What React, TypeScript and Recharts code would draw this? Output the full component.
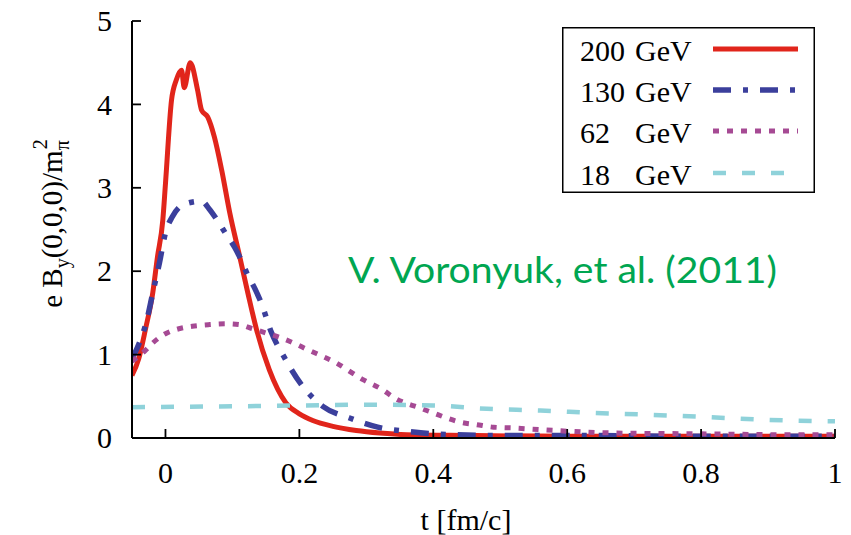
import { Legend, Line, LineChart, XAxis, YAxis } from 'recharts'

const SERIF = '"Liberation Serif", "Times New Roman", serif'
const TICK_LEN = 9

const xTicks = [0, 0.2, 0.4, 0.6, 0.8, 1]
const yTicks = [0, 1, 2, 3, 4, 5]

// 200 GeV
const t200 = [-0.05, -0.04, -0.03, -0.019, -0.012, -0.004, 0.0, 0.009, 0.016, 0.024, 0.028, 0.037, 0.048, 0.054, 0.063, 0.073, 0.084, 0.096, 0.111, 0.123, 0.136, 0.155, 0.18, 0.2, 0.22, 0.25, 0.285, 0.32, 0.36, 0.45, 0.6, 0.8, 1.0]
const v200 = [0.75, 0.95, 1.3, 1.74, 2.17, 2.61, 3.05, 4.05, 4.29, 4.41, 4.2, 4.5, 4.17, 3.93, 3.85, 3.61, 3.21, 2.7, 2.17, 1.74, 1.3, 0.82, 0.42, 0.29, 0.21, 0.14, 0.09, 0.06, 0.04, 0.03, 0.02, 0.02, 0.02]

// 130 GeV
const t130 = [-0.05, -0.04, -0.028, -0.019, -0.009, 0.0, 0.01, 0.021, 0.035, 0.054, 0.065, 0.079, 0.09, 0.103, 0.115, 0.123, 0.133, 0.143, 0.158, 0.178, 0.203, 0.235, 0.275, 0.317, 0.36, 0.4, 0.5, 0.6, 0.8, 1.0]
const v130 = [0.95, 1.12, 1.41, 1.74, 2.1, 2.46, 2.65, 2.77, 2.82, 2.84, 2.75, 2.59, 2.45, 2.29, 2.1, 1.95, 1.8, 1.62, 1.27, 0.96, 0.64, 0.38, 0.24, 0.13, 0.08, 0.05, 0.03, 0.03, 0.02, 0.02]

// 62 GeV
const t62 = [-0.05, -0.03, -0.019, 0.0, 0.02, 0.04, 0.066, 0.09, 0.11, 0.13, 0.15, 0.173, 0.215, 0.255, 0.295, 0.324, 0.342, 0.38, 0.4, 0.42, 0.44, 0.465, 0.49, 0.52, 0.56, 0.67, 0.8, 0.92, 1.0]
const v62 = [0.92, 1.05, 1.14, 1.25, 1.31, 1.34, 1.36, 1.37, 1.36, 1.31, 1.26, 1.2, 1.05, 0.9, 0.7, 0.58, 0.48, 0.36, 0.3, 0.24, 0.19, 0.16, 0.13, 0.12, 0.1, 0.06, 0.05, 0.04, 0.04]

// 18 GeV
const t18 = [-0.05, 0.1, 0.2, 0.3, 0.4, 0.48, 0.56, 0.64, 0.72, 0.81, 0.89, 1.0]
const v18 = [0.37, 0.38, 0.39, 0.4, 0.39, 0.35, 0.33, 0.3, 0.28, 0.25, 0.22, 0.2]

const energies = ['200', '130', '62', '18']
const times = [t200, t130, t62, t18]
const values = [v200, v130, v62, v18]
const colors = ['#e1251b', '#3b3f9c', '#a64a94', '#8fd2da']
const widths = [5, 5.5, 5, 4.5]
const dashes = [undefined, '18 12 5 12', '6 8', '13 16']

const series = energies.map((e, i) => ({
  name: e,
  data: times[i].map((t, j) => ({ t, v: values[i][j] })),
  color: colors[i],
  width: widths[i],
  dash: dashes[i],
}))

function BottomTick({ x, y, payload }: any) {
  return (
    <g>
      <line x1={x} x2={x} y1={y} y2={y - TICK_LEN} stroke="#000" strokeWidth={1.8} />
      <text x={x} y={y + 45} textAnchor="middle" fontFamily={SERIF} fontSize={30} fill="#000">
        {payload.value}
      </text>
    </g>
  )
}

function TopTick({ x, y }: any) {
  return <line x1={x} x2={x} y1={y} y2={y + TICK_LEN} stroke="#000" strokeWidth={1.8} />
}

function LeftTick({ x, y, payload }: any) {
  return (
    <g>
      <line x1={x} x2={x + TICK_LEN} y1={y} y2={y} stroke="#000" strokeWidth={1.8} />
      <text x={x - 20} y={y} dy="0.34em" textAnchor="end" fontFamily={SERIF} fontSize={30} fill="#000">
        {payload.value}
      </text>
    </g>
  )
}

function RightTick({ x, y }: any) {
  return <line x1={x} x2={x - TICK_LEN} y1={y} y2={y} stroke="#000" strokeWidth={1.8} />
}

function YLabel({ viewBox }: any) {
  const cx = 62
  const cy = viewBox ? viewBox.y + viewBox.height / 2 - 6 : 225
  return (
    <text
      x={cx}
      y={cy}
      transform={`rotate(-90, ${cx}, ${cy})`}
      textAnchor="middle"
      fontFamily={SERIF}
      fontSize={29}
      fill="#000"
    >
      e B<tspan dy={7} fontSize={20}>y</tspan>
      <tspan dy={-7}>(0,0,0)/m</tspan>
      <tspan dy={7} fontSize={20}>π</tspan>
      <tspan dx={-9} dy={-22} fontSize={20}>2</tspan>
    </text>
  )
}

function XLabel() {
  return (
    <text x={466} y={530} textAnchor="middle" fontFamily={SERIF} fontSize={30} fill="#000">
      t [fm/c]
    </text>
  )
}

function LegendBox() {
  const rows = [22, 63, 104, 146]
  return (
    <svg width={253} height={166} style={{ display: 'block' }}>
      <rect x={0.75} y={0.75} width={251.5} height={164.5} fill="#fff" stroke="#000" strokeWidth={1.5} />
      {series.map((s, i) => (
        <g key={s.name}>
          <text x={18} y={rows[i] + 12} fontFamily={SERIF} fontSize={30} fill="#000">
            {s.name}
          </text>
          <text x={73} y={rows[i] + 12} fontFamily={SERIF} fontSize={30} fill="#000">
            GeV
          </text>
          <line
            x1={151}
            x2={236}
            y1={rows[i]}
            y2={rows[i]}
            stroke={s.color}
            strokeWidth={s.width}
            strokeDasharray={s.dash}
          />
        </g>
      ))}
    </svg>
  )
}

export default function App() {
  return (
    <div style={{ position: 'absolute', left: 0, top: 0, width: 851, height: 535, background: '#fff' }}>
      <LineChart width={851} height={535} margin={{ top: 21, right: 16, bottom: 37, left: 72 }}>
        <XAxis
          dataKey="t"
          type="number"
          domain={[-0.05, 1]}
          allowDataOverflow
          ticks={xTicks}
          tickSize={0}
          tickMargin={0}
          tickLine={false}
          tick={<BottomTick />}
          axisLine={{ stroke: '#000', strokeWidth: 2 }}
          height={60}
          label={<XLabel />}
        />
        <XAxis
          xAxisId="top"
          orientation="top"
          dataKey="t"
          type="number"
          domain={[-0.05, 1]}
          allowDataOverflow
          ticks={xTicks}
          tickSize={0}
          tickMargin={0}
          tickLine={false}
          tick={<TopTick />}
          axisLine={{ stroke: '#000', strokeWidth: 2 }}
          height={0}
        />
        <YAxis
          type="number"
          domain={[0, 5]}
          allowDataOverflow
          ticks={yTicks}
          tickSize={0}
          tickMargin={0}
          tickLine={false}
          tick={<LeftTick />}
          axisLine={{ stroke: '#000', strokeWidth: 2 }}
          width={60}
          label={<YLabel />}
        />
        <YAxis
          yAxisId="right"
          orientation="right"
          type="number"
          domain={[0, 5]}
          allowDataOverflow
          ticks={yTicks}
          tickSize={0}
          tickMargin={0}
          tickLine={false}
          tick={<RightTick />}
          axisLine={{ stroke: '#000', strokeWidth: 2 }}
          width={0}
        />
        {series.map((s) => (
          <Line
            key={s.name}
            data={s.data}
            dataKey="v"
            name={s.name}
            type="monotone"
            stroke={s.color}
            strokeWidth={s.width}
            strokeDasharray={s.dash}
            strokeLinejoin="round"
            dot={false}
            activeDot={false}
            isAnimationActive={false}
          />
        ))}
        <Legend
          layout="horizontal"
          verticalAlign="middle"
          align="center"
          wrapperStyle={{ left: 562, top: 27, width: 253, height: 166 }}
          content={<LegendBox />}
        />
      </LineChart>
      <svg
        width={851}
        height={535}
        style={{ position: 'absolute', left: 0, top: 0, pointerEvents: 'none' }}
      >
        <text
          x={348}
          y={283}
          fontFamily="Lato, 'Open Sans', sans-serif"
          fontSize={37}
          fill="#00a651"
          textLength={429}
          lengthAdjust="spacingAndGlyphs"
        >
          V. Voronyuk, et al. (2011)
        </text>
      </svg>
    </div>
  )
}
